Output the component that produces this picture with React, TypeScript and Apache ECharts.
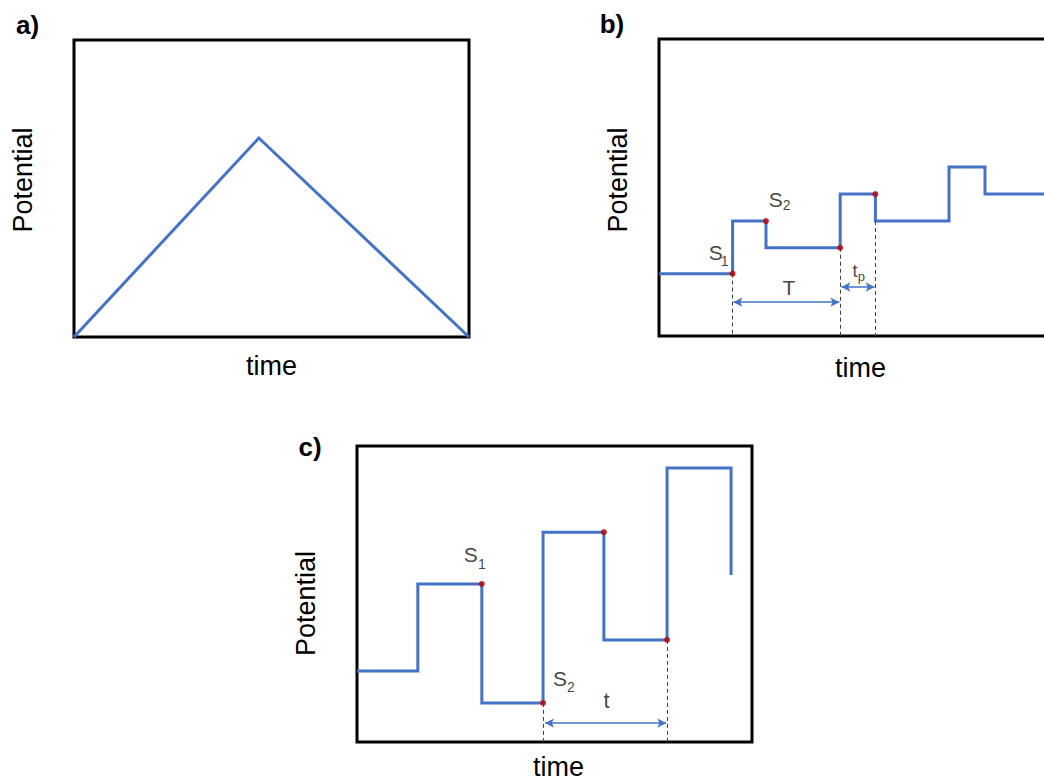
import React, { useEffect, useRef } from 'react';
import * as echarts from 'echarts';

// ---- texts ----
const panelLetters = ['a)', 'b)', 'c)'];
const yTitle = 'Potential';
const xTitle = 'time';

// ---- panel a: linear sweep (time %, potential %) ----
const sweepTime = [0, 46.8, 100];
const sweepPotential = [0, 67, 0];

// ---- panel b: differential pulse (step 'end') ----
const dpvTime = [0, 18.4, 26.75, 45.3, 54.1, 72.5, 81.5, 100];
const dpvPotential = [21, 38.7, 29.7, 47.8, 38.7, 56.9, 47.8, 47.8];
const dpvSampleTime = [18.4, 26.75, 45.3, 54.1];
const dpvSamplePotential = [21, 38.7, 29.7, 47.8];
const dpvDashTime = [18.4, 45.3, 54.1];
const dpvDashTop = [21, 29.7, 38.7];
const dpvPeriodSpan = [18.6, 45.1];
const dpvPeriodLevel = 11.4;
const dpvPulseSpan = [45.6, 53.9];
const dpvPulseLevel = 16.5;
const dpvLabelText = ['S', 'S', 'T', 't'];
const dpvLabelTime = [14.18, 29.18, 32.5, 49.0];
const dpvLabelPotential = [28.1, 45.9, 16.3, 21.9];
const dpvLabelSize = [21, 21, 21, 18];
const dpvSubText = ['1', '2', 'p'];
const dpvSubTime = [16.43, 31.93, 50.6];
const dpvSubPotential = [25.25, 44.1, 20.2];
const dpvSubSize = [14, 14, 13];

// ---- panel c: square wave (step 'end') ----
const swvTime = [0, 15.4, 31.6, 47.1, 62.5, 78.5, 94.7];
const swvPotential = [24, 53.4, 13.2, 70.9, 34.5, 92.6, 56.4];
const swvSampleTime = [31.6, 47.1, 62.5, 78.5];
const swvSamplePotential = [53.4, 13.2, 70.9, 34.5];
const swvDashTime = [47.1, 78.5];
const swvDashTop = [13.2, 34.5];
const swvPeriodSpan = [47.6, 78.3];
const swvPeriodLevel = 6.4;
const swvLabelText = ['S', 'S', 't'];
const swvLabelTime = [28.81, 51.39, 63.16];
const swvLabelPotential = [63.4, 21.45, 14.0];
const swvLabelSize = [21, 21, 22];
const swvSubText = ['1', '2'];
const swvSubTime = [31.6, 54.18];
const swvSubPotential = [60.2, 18.6];
const swvSubSize = [14, 14];

const BLUE = '#4472C4';
const RED = '#C00000';
const FONT = '"Liberation Sans", Arial, sans-serif';

const zip = (xs: number[], ys: number[]) => xs.map((x, i) => [x, ys[i]]);

function traceSeries(idx: number, xs: number[], ys: number[], step?: string) {
  return {
    type: 'line',
    xAxisIndex: idx,
    yAxisIndex: idx,
    data: zip(xs, ys),
    step: step || false,
    symbol: 'none',
    lineStyle: { color: BLUE, width: 3, join: 'miter' },
    z: 3,
  };
}

function dotSeries(idx: number, xs: number[], ys: number[]) {
  return {
    type: 'scatter',
    xAxisIndex: idx,
    yAxisIndex: idx,
    data: zip(xs, ys),
    symbolSize: 6,
    itemStyle: { color: RED },
    z: 5,
  };
}

function guideSeries(
  idx: number,
  dashX: number[],
  dashTop: number[],
  spans: { span: number[]; level: number }[]
) {
  return {
    type: 'line',
    xAxisIndex: idx,
    yAxisIndex: idx,
    data: [],
    silent: true,
    markLine: {
      silent: true,
      animation: false,
      label: { show: false },
      data: [
        ...dashX.map((x, i) => [
          { coord: [x, dashTop[i]], symbol: 'none', lineStyle: { type: [4, 3], color: '#404040', width: 1 } },
          { coord: [x, 0], symbol: 'none' },
        ]),
        ...spans.map((s) => [
          { coord: [s.span[0], s.level], symbol: 'arrow', symbolSize: [7, 9], lineStyle: { type: 'solid', color: BLUE, width: 1.5 } },
          { coord: [s.span[1], s.level], symbol: 'arrow', symbolSize: [7, 9] },
        ]),
      ],
    },
  };
}

function labelSeries(idx: number, texts: string[], xs: number[], ys: number[], sizes: number[]) {
  return {
    type: 'scatter',
    xAxisIndex: idx,
    yAxisIndex: idx,
    silent: true,
    symbolSize: 1,
    itemStyle: { color: 'rgba(0,0,0,0)' },
    z: 6,
    data: texts.map((t, i) => ({
      value: [xs[i], ys[i]],
      name: t,
      label: { fontSize: sizes[i] },
    })),
    label: {
      show: true,
      position: 'inside',
      align: 'center',
      verticalAlign: 'middle',
      color: '#111',
      textBorderWidth: 0,
      fontFamily: FONT,
      formatter: (p: any) => p.name,
    },
  };
}

const axisOff = { show: false };

export default function App() {
  const ref = useRef<HTMLDivElement>(null);
  useEffect(() => {
    const chart = echarts.init(ref.current!, null, { renderer: 'svg' });
    const gridBase = {
      show: true,
      borderColor: '#000',
      borderWidth: 3,
      backgroundColor: 'transparent',
      outerBoundsMode: 'none',
      containLabel: false,
    };
    const grids = [
      { left: 74, top: 40, width: 395, height: 297 },
      { left: 659, top: 39, width: 400, height: 297 },
      { left: 357, top: 446, width: 395, height: 296 },
    ];
    const xAxes = grids.map((_, i) => ({
      type: 'value', gridIndex: i, min: 0, max: 100,
      axisLine: axisOff, axisTick: axisOff, axisLabel: axisOff, splitLine: axisOff,
    }));
    const yAxes = grids.map((_, i) => ({
      type: 'value', gridIndex: i, min: 0, max: 100,
      axisLine: axisOff, axisTick: axisOff, axisLabel: axisOff, splitLine: axisOff,
    }));

    const letterPos = [[27.5, 25], [612, 24], [310, 447]];
    const yTitlePos = [[22.5, 180], [617.5, 180], [305.5, 603.5]];
    const xTitlePos = [[271.5, 366], [860.5, 367.5], [558.5, 767]];

    const graphics: any[] = [];
    panelLetters.forEach((t, i) => {
      graphics.push({
        type: 'text', x: letterPos[i][0], y: letterPos[i][1],
        style: { text: t, fill: '#000', font: `bold 26px ${FONT}`, textAlign: 'center', textVerticalAlign: 'middle' },
      });
      graphics.push({
        type: 'text', x: yTitlePos[i][0], y: yTitlePos[i][1], rotation: Math.PI / 2,
        style: { text: yTitle, fill: '#000', font: `27px ${FONT}`, textAlign: 'center', textVerticalAlign: 'middle' },
      });
      graphics.push({
        type: 'text', x: xTitlePos[i][0], y: xTitlePos[i][1],
        style: { text: xTitle, fill: '#000', font: `27px ${FONT}`, textAlign: 'center', textVerticalAlign: 'middle' },
      });
    });

    chart.setOption({
      animation: false,
      backgroundColor: '#fff',
      grid: grids.map((g) => ({ ...gridBase, ...g })),
      xAxis: xAxes,
      yAxis: yAxes,
      graphic: graphics,
      series: [
        traceSeries(0, sweepTime, sweepPotential),
        traceSeries(1, dpvTime, dpvPotential, 'end'),
        guideSeries(1, dpvDashTime, dpvDashTop, [
          { span: dpvPeriodSpan, level: dpvPeriodLevel },
          { span: dpvPulseSpan, level: dpvPulseLevel },
        ]),
        dotSeries(1, dpvSampleTime, dpvSamplePotential),
        labelSeries(1, dpvLabelText, dpvLabelTime, dpvLabelPotential, dpvLabelSize),
        labelSeries(1, dpvSubText, dpvSubTime, dpvSubPotential, dpvSubSize),
        traceSeries(2, swvTime, swvPotential, 'end'),
        guideSeries(2, swvDashTime, swvDashTop, [{ span: swvPeriodSpan, level: swvPeriodLevel }]),
        dotSeries(2, swvSampleTime, swvSamplePotential),
        labelSeries(2, swvLabelText, swvLabelTime, swvLabelPotential, swvLabelSize),
        labelSeries(2, swvSubText, swvSubTime, swvSubPotential, swvSubSize),
      ],
    });
    return () => chart.dispose();
  }, []);
  return (
    <div
      ref={ref}
      style={{ position: 'fixed', left: 0, top: 0, width: 1044, height: 782, background: '#fff' }}
    />
  );
}
